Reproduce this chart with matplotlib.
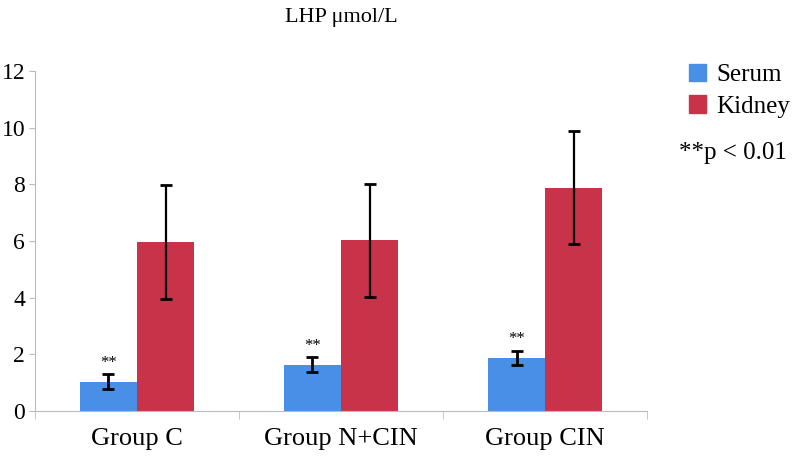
import numpy as np
import matplotlib
matplotlib.use('Agg')
import matplotlib.pyplot as plt
from matplotlib.patches import Patch

groups = ['Group C', 'Group N+CIN', 'Group CIN']
serum = [1.03, 1.63, 1.87]
serum_err = [0.26, 0.26, 0.26]
kidney = [5.96, 6.02, 7.88]
kidney_err = [2.02, 2.0, 2.0]
y_ticks = [0, 2, 4, 6, 8, 10, 12]

plt.rcParams['font.family'] = ['Liberation Serif', 'DejaVu Serif']

fig = plt.figure(figsize=(7.94, 4.69), dpi=100)
ax = fig.add_axes([0.044, 0.1237, 0.771, 0.7253])

blue = '#4a8fe7'
red = '#c8334a'
x = np.arange(len(groups))
w = 0.28

ax.bar(x - w / 2, serum, w, color=blue, yerr=serum_err,
       error_kw=dict(ecolor='black', elinewidth=2, capsize=4, capthick=2))
ax.bar(x + w / 2, kidney, w, color=red, yerr=kidney_err,
       error_kw=dict(ecolor='black', elinewidth=1.6, capsize=4, capthick=2))

# significance markers above serum bars
for xi, v, e in zip(x, serum, serum_err):
    ax.text(xi - w / 2, v + e + 0.12, '**', ha='center', va='bottom', fontsize=12)

ax.set_xlim(-0.5, 2.5)
ax.set_ylim(0, 12)
ax.set_yticks(y_ticks)
ax.set_yticklabels([str(t) for t in y_ticks], fontsize=17)
ax.set_xticks(x)
ax.set_xticklabels(groups, fontsize=19)
ax.tick_params(axis='x', length=0, pad=12)
ax.set_xticks([-0.5, 0.5, 1.5, 2.5], minor=True)
ax.tick_params(axis='x', which='minor', length=6, color='#bbbbbb')
ax.tick_params(axis='y', length=4, color='#bbbbbb', pad=3)

for s in ['top', 'right']:
    ax.spines[s].set_visible(False)
for s in ['left', 'bottom']:
    ax.spines[s].set_color('#bbbbbb')

fig.text(0.43, 0.962, 'LHP \u03bcmol/L', ha='center', va='center', fontsize=16)

handles = [Patch(color=blue, label='Serum'), Patch(color=red, label='Kidney')]
fig.legend(handles=handles, loc='upper left', bbox_to_anchor=(0.855, 0.885),
           frameon=False, fontsize=18, handlelength=0.7, handleheight=0.7,
           handletextpad=0.4, labelspacing=0.35, borderaxespad=0)
fig.text(0.855, 0.673, '**p < 0.01', ha='left', va='center', fontsize=18)

fig.savefig('out.png', dpi=100)
